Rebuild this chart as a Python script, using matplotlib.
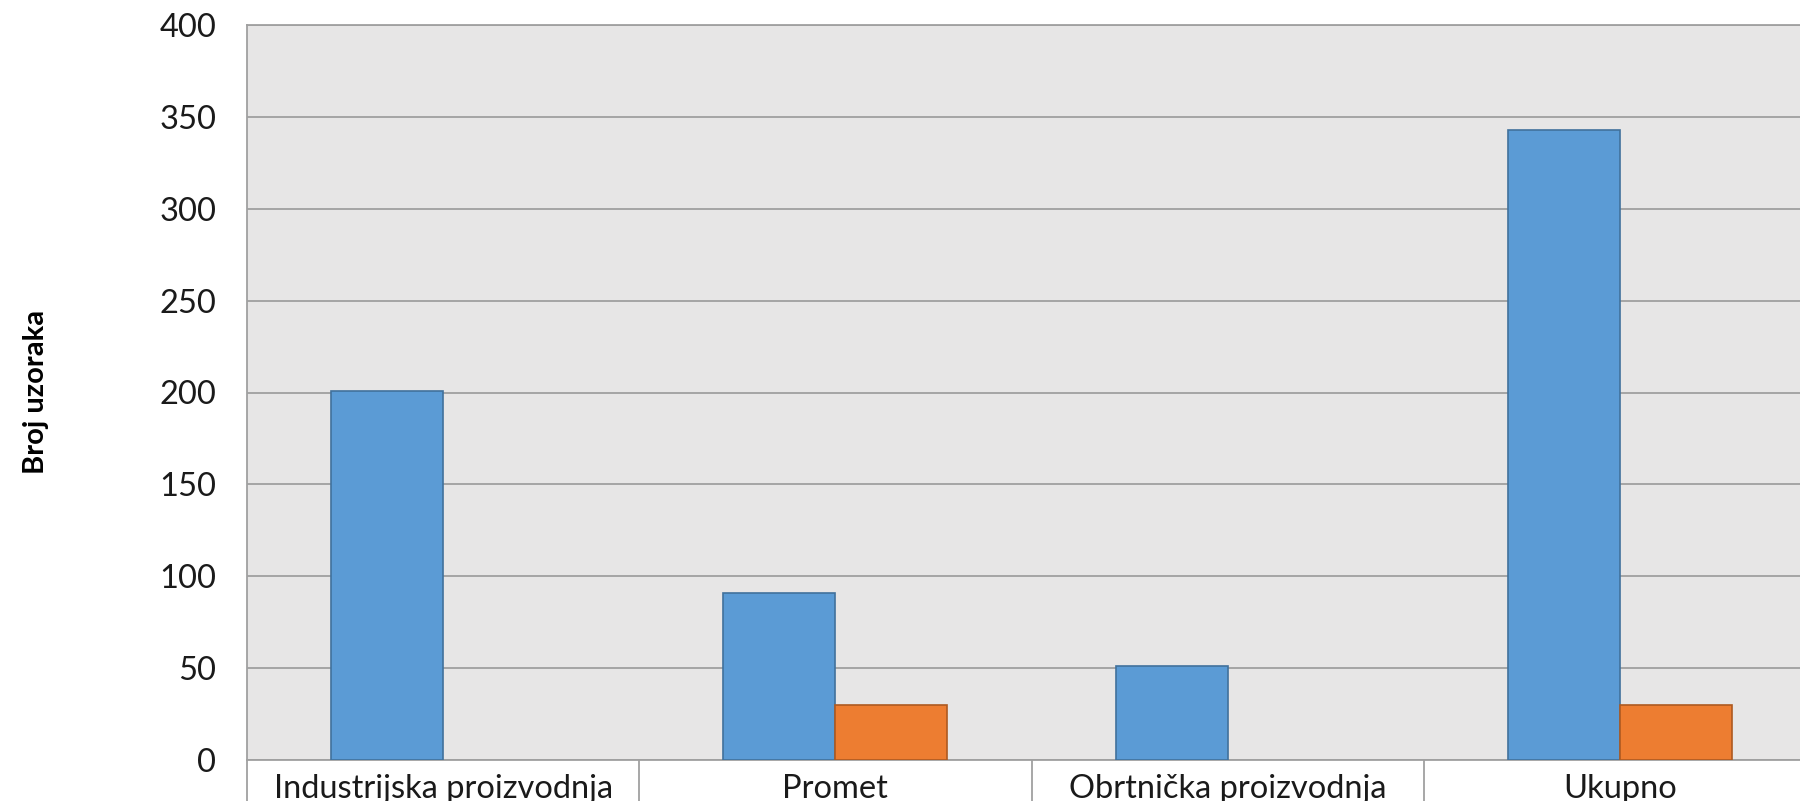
import numpy as np
from matplotlib import pyplot as plt

categories = ['Industrijska proizvodnja', 'Promet', 'Obrtnička proizvodnja', 'Ukupno']
blue_vals = [201, 91, 51, 343]
orange_vals = [0, 30, 0, 30]
yticks = [0, 50, 100, 150, 200, 250, 300, 350, 400]

plt.rcParams['font.family'] = ['Lato', 'DejaVu Sans']

fig = plt.figure(figsize=(18, 8.01), dpi=100)
# axes box in pixels: left 247, top 25, bottom 760, right runs past the edge
ax = fig.add_axes([247/1800, (801-760)/801, (1816-247)/1800, (760-25)/801])
ax.set_facecolor('#E7E6E6')

n = np.arange(len(categories))
w = 0.2857
ax.bar(n - w/2, blue_vals, w, color='#5B9BD5', edgecolor='#41719C', linewidth=1.2, zorder=3)
# zero bars get no outline (otherwise a flat line shows)
orange_edges = ['#AE5A21' if v > 0 else 'none' for v in orange_vals]
ax.bar(n + w/2, orange_vals, w, color='#ED7D31', edgecolor=orange_edges, linewidth=1.2, zorder=3)

ax.set_xlim(-0.5, 3.5)
ax.set_ylim(0, 400)
ax.set_yticks(yticks)
ax.yaxis.grid(True, color='#A0A0A0', linewidth=1.3, zorder=1)
ax.set_axisbelow(True)

ax.set_xticks(n)
ax.set_xticklabels(categories)
ax.tick_params(axis='x', length=0, pad=10, labelsize=23.5, labelcolor='#1a1a1a')
ax.tick_params(axis='y', length=0, pad=22, labelsize=23.5, labelcolor='#1a1a1a')

for s in ['left', 'top', 'bottom']:
    ax.spines[s].set_color('#A0A0A0')
    ax.spines[s].set_linewidth(1.3)
ax.spines['right'].set_visible(False)

# table-like dividers under the category axis
trans = ax.get_xaxis_transform()
for xb in [-0.5, 0.5, 1.5, 2.5, 3.5]:
    ax.plot([xb, xb], [0, -0.1], color='#A0A0A0', linewidth=1.3, transform=trans, clip_on=False)

fig.text(36/1800, 1 - 392/801, 'Broj uzoraka', rotation=90, fontsize=21, fontweight='bold',
         ha='center', va='center', color='#000000')

plt.savefig('out.png', dpi=100)
